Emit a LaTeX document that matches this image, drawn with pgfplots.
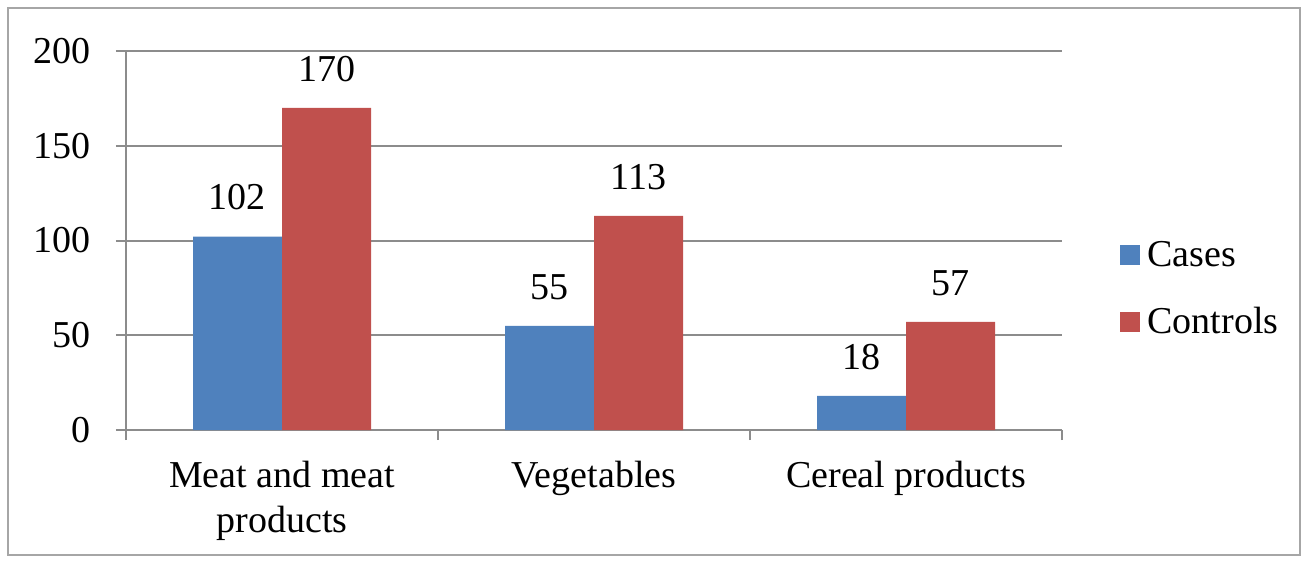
\documentclass[border=0pt]{standalone}
\usepackage{pgfplots}
\pgfplotsset{compat=1.18}
\usepackage{fontspec}
\setmainfont{Liberation Serif}
\definecolor{casesblue}{HTML}{4F81BD}
\definecolor{ctrlred}{HTML}{C0504D}
\definecolor{axisgray}{HTML}{8C8C8C}
\definecolor{framegray}{HTML}{A6A6A6}
\begin{document}
\begin{tikzpicture}
\useasboundingbox (-63pt,-67pt) rectangle (592pt,215pt);
\draw[framegray, line width=1pt] (-59pt,-62.5pt) rectangle (587pt,211pt);
\begin{axis}[
  scale only axis,
  width=468pt, height=189.5pt,
  ybar=0pt, bar width=44.5pt,
  xmin=-0.5, xmax=2.5,
  ymin=0, ymax=200,
  ytick={0,50,...,200},
  xtick={-0.5,0.5,1.5,2.5},
  xticklabels={},
  extra x ticks={0,1,2},
  extra x tick labels={{Meat and meat\\products},{Vegetables},{Cereal products}},
  extra x tick style={major tick length=0pt, grid=none,
    xticklabel style={align=center, font=\fontsize{19}{22.5}\selectfont, yshift=-12pt}},
  yticklabel style={font=\fontsize{19}{22}\selectfont, xshift=-9pt},
  /pgf/number format/assume math mode=true,
  axis lines*=left,
  axis line style={axisgray, line width=1pt},
  ymajorgrids,
  grid style={axisgray, line width=1pt},
  tick align=outside,
  major tick length=5pt,
  tick style={axisgray, line width=1pt},
  nodes near coords,
  nodes near coords style={font=\fontsize{19}{22}\selectfont, text=black, anchor=south, inner sep=0pt, yshift=13pt},
  legend style={at={(1.061,0.372)}, anchor=west, draw=none, fill=none,
    font=\fontsize{19}{22}\selectfont, row sep=15pt, inner sep=0pt,
    nodes={inner xsep=4pt}},
  legend cell align=left,
  legend image code/.code={\fill[#1, draw=none] (0pt,-5pt) rectangle (10pt,5pt);},
]
\addplot[fill=casesblue, draw=none] coordinates {(0,102) (1,55) (2,18)};
\addplot[fill=ctrlred, draw=none] coordinates {(0,170) (1,113) (2,57)};
\legend{Cases, Controls}
\end{axis}
\end{tikzpicture}
\end{document}
